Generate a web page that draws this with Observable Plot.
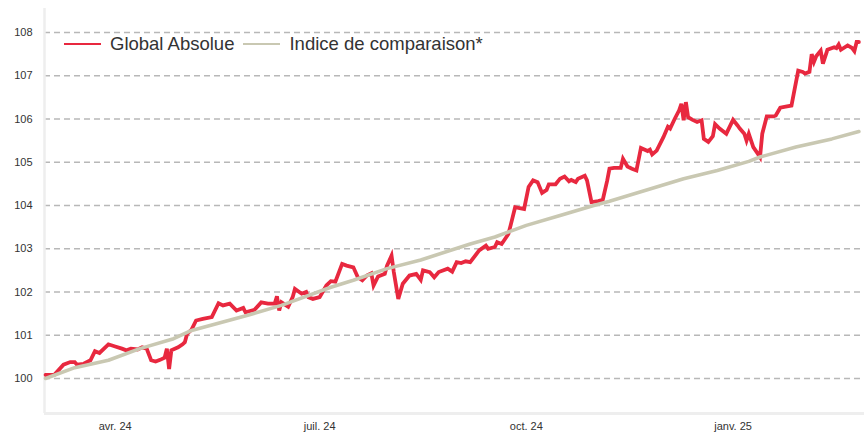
<!DOCTYPE html>
<html>
<head>
<meta charset="utf-8">
<script src="https://cdn.jsdelivr.net/npm/d3@7"></script>
<script src="https://cdn.jsdelivr.net/npm/@observablehq/plot@0.6"></script>
<style>
  html, body { margin: 0; padding: 0; background: #fff; }
  #wrap { position: relative; width: 864px; height: 434px; font-family: "Liberation Sans", Arial, sans-serif; }
  #legend { position: absolute; left: 64px; top: 33px; display: flex; align-items: center; font-size: 18.5px; color: #333; line-height: 22px; white-space: nowrap; }
  .sw { display: inline-block; width: 37px; height: 2.5px; margin-right: 9px; }
  .item { display: flex; align-items: center; margin-right: 9px; }
</style>
</head>
<body>
<div id="wrap"><div id="legend"></div></div>
<script>
// Series names
const seriesNames = ["Global Absolue", "Indice de comparaison*"];
const seriesColors = ["#e8283f", "#c9c8b2"];

// Global Absolue (dates, values)
const gaDates = [
"2024-03-01","2024-03-05","2024-03-09","2024-03-12","2024-03-14","2024-03-15","2024-03-18","2024-03-21","2024-03-23","2024-03-25",
"2024-03-29","2024-04-01","2024-04-04","2024-04-06","2024-04-08","2024-04-11","2024-04-13","2024-04-15","2024-04-17","2024-04-19",
"2024-04-21","2024-04-23","2024-04-24","2024-04-25","2024-04-26","2024-04-29","2024-05-01","2024-05-02","2024-05-03","2024-05-05",
"2024-05-07","2024-05-10","2024-05-14","2024-05-17","2024-05-19","2024-05-22","2024-05-25","2024-05-28","2024-05-29","2024-06-02",
"2024-06-05","2024-06-08","2024-06-11","2024-06-12","2024-06-13","2024-06-14","2024-06-17","2024-06-19","2024-06-20","2024-06-23",
"2024-06-25","2024-06-26","2024-06-28","2024-07-01","2024-07-04","2024-07-06","2024-07-08","2024-07-11","2024-07-13","2024-07-16",
"2024-07-18","2024-07-20","2024-07-22","2024-07-24","2024-07-25","2024-07-27","2024-07-30","2024-07-31","2024-08-02","2024-08-03",
"2024-08-05","2024-08-07","2024-08-10","2024-08-13","2024-08-15","2024-08-16","2024-08-19","2024-08-21","2024-08-23","2024-08-27",
"2024-08-29","2024-08-31","2024-09-02","2024-09-04","2024-09-06","2024-09-10","2024-09-13","2024-09-14","2024-09-17","2024-09-18",
"2024-09-20","2024-09-23","2024-09-24","2024-09-26","2024-09-28","2024-09-30","2024-10-02","2024-10-04","2024-10-06","2024-10-08",
"2024-10-10","2024-10-11","2024-10-14","2024-10-16","2024-10-18","2024-10-20","2024-10-21","2024-10-23","2024-10-24","2024-10-27",
"2024-10-28","2024-10-30","2024-11-02","2024-11-04","2024-11-06","2024-11-07","2024-11-09","2024-11-12","2024-11-13","2024-11-15",
"2024-11-17","2024-11-19","2024-11-21","2024-11-24","2024-11-25","2024-11-26","2024-11-28","2024-12-01","2024-12-03","2024-12-04",
"2024-12-06","2024-12-08","2024-12-09","2024-12-10","2024-12-11","2024-12-12","2024-12-14","2024-12-16","2024-12-18","2024-12-19",
"2024-12-21","2024-12-23","2024-12-24","2024-12-26","2024-12-29","2025-01-01","2025-01-03","2025-01-04","2025-01-06","2025-01-07",
"2025-01-08","2025-01-10","2025-01-12","2025-01-13","2025-01-14","2025-01-16","2025-01-19","2025-01-20","2025-01-22","2025-01-25",
"2025-01-27","2025-01-28","2025-01-30","2025-02-01","2025-02-02","2025-02-04","2025-02-05","2025-02-06","2025-02-07","2025-02-09",
"2025-02-10","2025-02-12","2025-02-15","2025-02-16","2025-02-17","2025-02-18","2025-02-21","2025-02-23","2025-02-24","2025-02-25",
"2025-02-26"];
const gaValues = [
100.08,100.09,100.32,100.38,100.38,100.32,100.34,100.42,100.63,100.59,
100.79,100.74,100.69,100.65,100.69,100.67,100.72,100.69,100.42,100.39,
100.43,100.48,100.69,100.22,100.65,100.72,100.79,100.84,101.03,101.13,
101.34,101.38,101.42,101.74,101.69,101.73,101.57,101.63,101.53,101.59,
101.76,101.73,101.73,101.90,101.57,101.76,101.66,101.88,102.07,101.96,
102.00,101.88,101.84,101.88,102.15,102.25,102.24,102.65,102.61,102.57,
102.34,102.27,102.38,102.43,102.15,102.36,102.42,102.61,102.84,102.46,
101.84,102.19,102.38,102.42,102.28,102.50,102.46,102.34,102.46,102.54,
102.47,102.69,102.67,102.71,102.69,102.96,103.07,103.00,103.04,103.15,
103.11,103.34,103.54,103.96,103.94,103.92,104.43,104.58,104.54,104.29,
104.36,104.49,104.49,104.62,104.67,104.56,104.59,104.54,104.62,104.69,
104.58,104.08,104.10,104.13,104.58,104.85,104.87,104.87,105.08,104.90,
104.85,104.81,105.33,105.26,105.29,105.18,105.27,105.58,105.82,105.78,
106.00,106.20,106.35,105.97,106.39,106.04,105.98,105.93,105.97,105.54,
105.47,105.60,105.88,105.78,105.66,105.98,105.85,105.78,105.66,105.50,
105.66,105.35,105.20,105.12,105.66,106.06,106.06,106.08,106.26,106.29,
106.31,106.58,107.12,107.09,107.05,107.09,107.50,107.32,107.45,107.58,
107.28,107.60,107.66,107.64,107.72,107.60,107.70,107.64,107.57,107.78,
107.78];

// Indice de comparaison* (dates, values)
const icDates = [
"2024-03-01","2024-03-14","2024-03-29","2024-04-12","2024-04-27","2024-05-05","2024-05-30","2024-06-14","2024-07-06","2024-07-16",
"2024-07-31","2024-08-15","2024-09-06","2024-09-17","2024-10-01","2024-10-16","2024-10-31","2024-11-07","2024-11-25","2024-12-10",
"2024-12-25","2025-01-08","2025-01-13","2025-01-29","2025-02-14","2025-02-26"];
const icValues = [
100.00,100.25,100.42,100.69,100.92,101.11,101.46,101.69,102.11,102.27,
102.54,102.74,103.11,103.27,103.54,103.77,104.00,104.10,104.38,104.62,
104.81,105.02,105.12,105.35,105.54,105.71];

// Axis ticks
const yTicks = [100, 101, 102, 103, 104, 105, 106, 107, 108];
const xTickDates = ["2024-04-01", "2024-07-01", "2024-10-01", "2025-01-01"];
const xTickLabels = ["avr. 24", "juil. 24", "oct. 24", "janv. 25"];
const xDomain = ["2024-02-29T13:00", "2025-02-28T12:00"];
const yDomain = [99.19, 108.555];

const ga = gaDates.map((d, i) => ({date: new Date(d), value: gaValues[i]}));
const ic = icDates.map((d, i) => ({date: new Date(d), value: icValues[i]}));
const xTicks = xTickDates.map(d => new Date(d));
const xd = xDomain.map(d => new Date(d + "Z"));
const labelOf = new Map(xTicks.map((d, i) => [+d, xTickLabels[i]]));

const chart = Plot.plot({
  width: 864,
  height: 434,
  marginLeft: 44,
  marginRight: 0,
  marginTop: 8,
  marginBottom: 21,
  style: {fontFamily: "'Liberation Sans', Arial, sans-serif", fontSize: "11px", color: "#333", background: "#fff"},
  x: {type: "utc", domain: xd},
  y: {domain: yDomain},
  marks: [
    Plot.ruleY(yTicks, {stroke: "#b8b8b8", strokeWidth: 1.6, strokeDasharray: "6,4"}),
    Plot.ruleX([xd[0]], {stroke: "#eeeeee", strokeWidth: 2.5}),
    Plot.ruleY([yDomain[0]], {stroke: "#eeeeee", strokeWidth: 3}),
    Plot.axisY({ticks: yTicks, tickSize: 0, tickPadding: 12, tickFormat: d => String(d), fontSize: 11, label: null}),
    Plot.axisX({ticks: xTicks, tickSize: 0, tickPadding: 9, tickFormat: d => labelOf.get(+d), fontSize: 11, label: null}),
    Plot.line(ga, {x: "date", y: "value", stroke: seriesColors[0], strokeWidth: 3.8, strokeLinejoin: "miter", strokeMiterlimit: 4}),
    Plot.line(ic, {x: "date", y: "value", stroke: seriesColors[1], strokeWidth: 3.6})
  ]
});
const wrap = document.getElementById("wrap");
wrap.insertBefore(chart, wrap.firstChild);

const legend = document.getElementById("legend");
seriesNames.forEach((n, i) => {
  const it = document.createElement("span");
  it.className = "item";
  const sw = document.createElement("span");
  sw.className = "sw";
  sw.style.background = seriesColors[i];
  it.appendChild(sw);
  it.appendChild(document.createTextNode(n));
  legend.appendChild(it);
});
</script>
</body>
</html>
